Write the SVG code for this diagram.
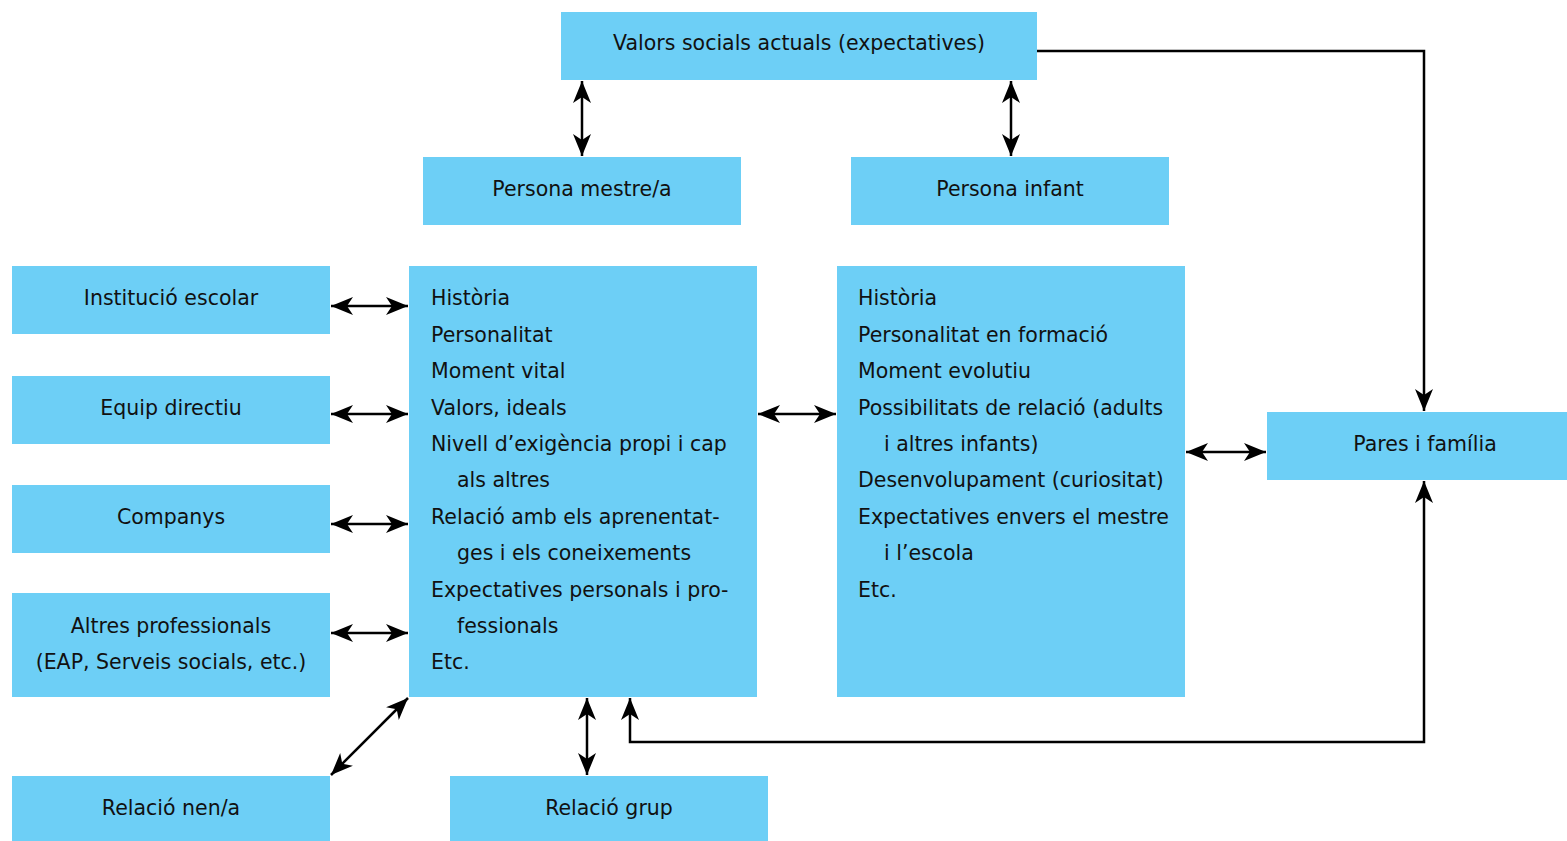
<svg xmlns="http://www.w3.org/2000/svg" width="1567" height="841" viewBox="0 0 1567 841">
<defs>
<style>
.box{fill:#6dcff6}
text{font-family:"DejaVu Sans","Liberation Sans",sans-serif;font-size:20.5px;fill:#111}
.c{text-anchor:middle}
.ln{fill:none;stroke:#000;stroke-width:2.5}
</style>
<marker id="ah" markerUnits="userSpaceOnUse" markerWidth="26" markerHeight="22" viewBox="0 0 26 22" refX="24" refY="11" orient="auto-start-reverse" overflow="visible">
<path d="M24,11 L2,2 L8,11 L2,20 Z" fill="#000"/>
</marker>
</defs>
<rect width="1567" height="841" fill="#fff"/>
<g id="valors"><rect class="box" x="561" y="12" width="476" height="68"/><text class="c" x="799" y="50">Valors socials actuals (expectatives)</text></g>
<g id="mestre"><rect class="box" x="423" y="157" width="318" height="68"/><text class="c" x="582" y="196">Persona mestre/a</text></g>
<g id="infant"><rect class="box" x="851" y="157" width="318" height="68"/><text class="c" x="1010" y="196">Persona infant</text></g>
<g id="institucio"><rect class="box" x="12" y="266" width="318" height="68"/><text class="c" x="171" y="305">Institució escolar</text></g>
<g id="equip"><rect class="box" x="12" y="376" width="318" height="68"/><text class="c" x="171" y="415">Equip directiu</text></g>
<g id="companys"><rect class="box" x="12" y="485" width="318" height="68"/><text class="c" x="171" y="524">Companys</text></g>
<g id="altres"><rect class="box" x="12" y="593" width="318" height="104"/><text class="c" x="171" y="633">Altres professionals</text><text class="c" x="171" y="669">(EAP, Serveis socials, etc.)</text></g>
<g id="nen"><rect class="box" x="12" y="776" width="318" height="65"/><text class="c" x="171" y="815">Relació nen/a</text></g>
<g id="grup"><rect class="box" x="450" y="776" width="318" height="65"/><text class="c" x="609" y="815">Relació grup</text></g>
<g id="mestre-detall"><rect class="box" x="409" y="266" width="348" height="431"/>
<text x="431" y="305">Història</text>
<text x="431" y="342">Personalitat</text>
<text x="431" y="378">Moment vital</text>
<text x="431" y="415">Valors, ideals</text>
<text x="431" y="451">Nivell d’exigència propi i cap</text>
<text x="457" y="487">als altres</text>
<text x="431" y="524">Relació amb els aprenentat-</text>
<text x="457" y="560">ges i els coneixements</text>
<text x="431" y="597">Expectatives personals i pro-</text>
<text x="457" y="633">fessionals</text>
<text x="431" y="669">Etc.</text>
</g>
<g id="infant-detall"><rect class="box" x="837" y="266" width="348" height="431"/>
<text x="858" y="305">Història</text>
<text x="858" y="342">Personalitat en formació</text>
<text x="858" y="378">Moment evolutiu</text>
<text x="858" y="415">Possibilitats de relació (adults</text>
<text x="884" y="451">i altres infants)</text>
<text x="858" y="487">Desenvolupament (curiositat)</text>
<text x="858" y="524">Expectatives envers el mestre</text>
<text x="884" y="560">i l’escola</text>
<text x="858" y="597">Etc.</text>
</g>
<g id="pares"><rect class="box" x="1267" y="412" width="300" height="68"/><text class="c" x="1425" y="451">Pares i família</text></g>
<g id="connectors">
<path class="ln" d="M1037,51 H1424 V411" marker-end="url(#ah)"/>
<path class="ln" d="M582,81 V156" marker-start="url(#ah)" marker-end="url(#ah)"/>
<path class="ln" d="M1011,81 V156" marker-start="url(#ah)" marker-end="url(#ah)"/>
<path class="ln" d="M331,306 H408" marker-start="url(#ah)" marker-end="url(#ah)"/>
<path class="ln" d="M331,414 H408" marker-start="url(#ah)" marker-end="url(#ah)"/>
<path class="ln" d="M331,524 H408" marker-start="url(#ah)" marker-end="url(#ah)"/>
<path class="ln" d="M331,633 H408" marker-start="url(#ah)" marker-end="url(#ah)"/>
<path class="ln" d="M758,414 H836" marker-start="url(#ah)" marker-end="url(#ah)"/>
<path class="ln" d="M1186,452 H1266" marker-start="url(#ah)" marker-end="url(#ah)"/>
<path class="ln" d="M331,775 L408,698" marker-start="url(#ah)" marker-end="url(#ah)"/>
<path class="ln" d="M587,698 V775" marker-start="url(#ah)" marker-end="url(#ah)"/>
<path class="ln" d="M1424,481 V742 H630 V698" marker-start="url(#ah)" marker-end="url(#ah)"/>
</g>
</svg>
